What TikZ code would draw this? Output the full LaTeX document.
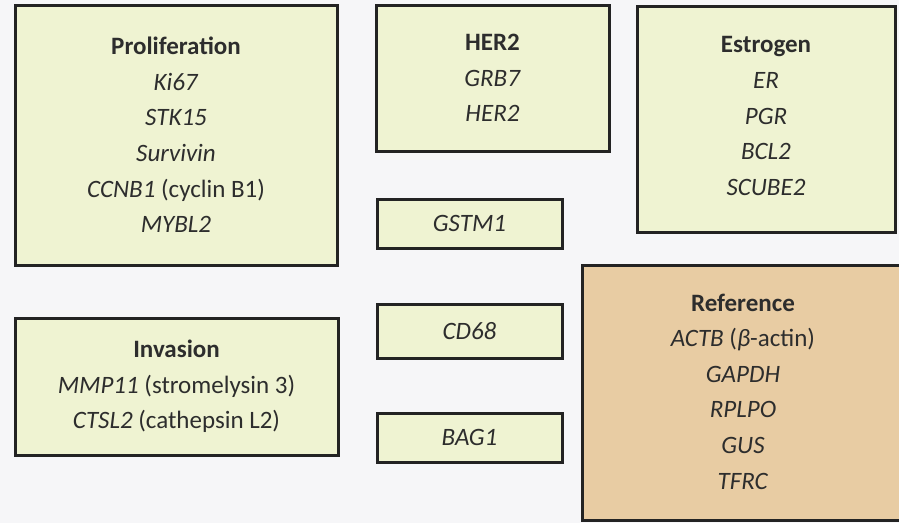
\documentclass[tikz,border=0pt]{standalone}
\usepackage{fontspec}
\setmainfont{Carlito}
\definecolor{bg}{RGB}{246,246,248}
\definecolor{greenfill}{RGB}{239,243,210}
\definecolor{orangefill}{RGB}{232,204,163}
\definecolor{edge}{RGB}{35,35,35}
\definecolor{ink}{RGB}{45,45,45}
\newcommand\gene[1]{\textit{#1}}
\begin{document}
\begin{tikzpicture}[x=1pt,y=-1pt,
  box/.style={draw=edge, line width=3pt, fill=greenfill, align=center, inner sep=0pt,
    font=\fontsize{25}{35.6}\selectfont, text=ink},
  refbox/.style={box, fill=orangefill},
  plain/.style={align=center, inner sep=0pt, font=\fontsize{25}{35.6}\selectfont, text=ink}]
\useasboundingbox (0,0) rectangle (899,523);
\fill[bg] (0,0) rectangle (899,523);
\clip (0,0) rectangle (899,523);
\node[box, minimum width=322, minimum height=260] (prolif) at (176,135)
  {\textbf{Proliferation}\\\gene{Ki67}\\\gene{STK15}\\\gene{Survivin}\\\gene{CCNB1} (cyclin B1)\\\gene{MYBL2}};
\node[box, minimum width=233, minimum height=146] (her2) at (492.5,78)
  {\textbf{HER2}\\\gene{GRB7}\\\gene{HER2}};
\node[box, minimum width=258, minimum height=226] (estrogen) at (766,119) {};
\node[plain] (estrogentext) at (766,116)
  {\textbf{Estrogen}\\\gene{ER}\\\gene{PGR}\\\gene{BCL2}\\\gene{SCUBE2}};
\node[box, minimum width=185, minimum height=49] (gstm1) at (469.5,223.5) {\gene{GSTM1}};
\node[box, minimum width=185, minimum height=54] (cd68) at (469.5,331) {\gene{CD68}};
\node[box, minimum width=185, minimum height=49] (bag1) at (469.5,437.5) {\gene{BAG1}};
\node[box, minimum width=323, minimum height=137] (invasion) at (176.5,386.5)
  {\textbf{Invasion}\\\gene{MMP11} (stromelysin 3)\\\gene{CTSL2} (cathepsin L2)};
\node[refbox, minimum width=345, minimum height=255] (reference) at (754.5,392.5) {};
\node[plain] (referencetext) at (743,391.5)
  {\textbf{Reference}\\\gene{ACTB} (\gene{β}-actin)\\\gene{GAPDH}\\\gene{RPLPO}\\\gene{GUS}\\\gene{TFRC}};
\end{tikzpicture}
\end{document}
